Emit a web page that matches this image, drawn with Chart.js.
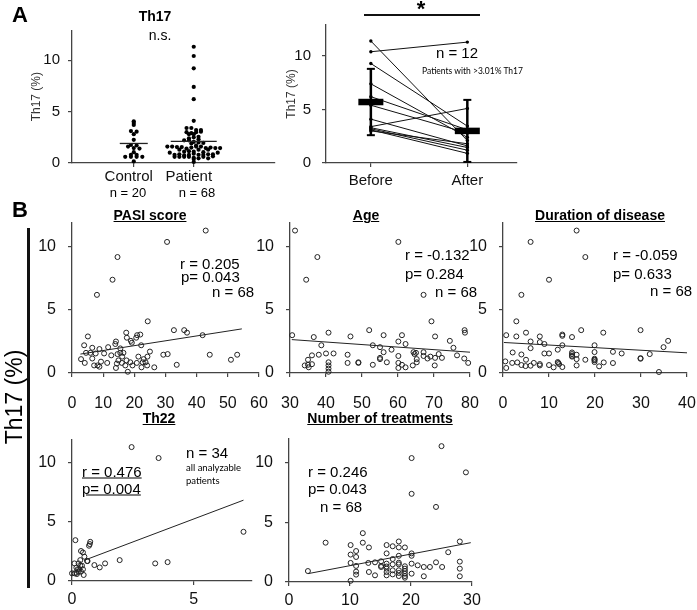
<!DOCTYPE html>
<html>
<head>
<meta charset="utf-8">
<script src="https://cdn.jsdelivr.net/npm/chart.js"></script>
<style>
  body { margin: 0; width: 697px; height: 610px; background: #fff; position: relative; overflow: hidden;
         font-family: "Liberation Sans", Arial, sans-serif; }
  canvas { position: absolute; }
  .t { position: absolute; white-space: nowrap; line-height: 1; color: #000; }
</style>
</head>
<body>
<script>
// ---- panel A, left: Th17 % in controls and patients
var groups = ['Control', 'Patient'];
var groupN = ['n = 20', 'n = 68'];
var controlTh17 = [4.05, 3.9, 3.7, 3.1, 3.05, 2.8, 2.25, 1.75, 1.7, 1.6, 1.45, 1.4, 1.05, 0.8, 0.8, 0.6, 0.6, 0.6, 0.6, 0.15];
var groupMeans = [1.9, 2.1];

// ---- panel A, right: paired before / after
var timepoints = ['Before', 'After'];
var beforeTh17 = [11.4, 10.4, 9.3, 7.4, 6.2, 5.4, 4.1, 3.4, 3.3, 3.2, 3.1, 3.0];
var afterTh17 = [2.1, 11.3, 3.45, 2.4, 3.1, 2.8, 1.6, 5.1, 1.45, 1.2, 0.9, 1.8];
var pairMeans = [5.7, 3.0];
var pairSD = [3.1, 2.9];

// ---- panel B scatters
var pasiScore = [42.9, 30.5, 14.6, 13.0, 8.0, 24.3, 32.7, 36.0, 36.9, 41.9, 5.1, 17.4, 17.6, 20.6, 20.9, 21.9, 18.9,
  19.2, 14.1, 13.9, 22.2, 3.9, 8.8, 11.6, 6.5, 4.5, 5.9, 7.6, 10.3, 12.6, 14.6, 15.5, 16.5, 16.1, 14.9, 16.0, 17.1,
  18.7, 19.4, 17.9, 14.1, 14.4, 11.3, 9.3, 7.1, 8.2, 8.8, 2.9, 4.1, 6.5, 20.8, 22.3, 22.7, 23.0, 23.6, 24.2, 25.0,
  24.1, 26.4, 29.3, 30.7, 33.6, 44.2, 51.0, 53.0, 17.5, 21.3, 15.5];
var pasiTh17 = [11.3, 10.4, 9.2, 7.4, 6.2, 4.1, 3.4, 3.4, 3.2, 3.0, 2.9, 3.2, 2.8, 2.8, 3.0, 3.05, 2.55,
  2.4, 2.5, 2.3, 2.2, 2.2, 1.9, 2.05, 2.0, 1.6, 1.6, 1.55, 1.55, 1.4, 1.5, 1.6, 1.6, 1.3, 1.0, 0.8, 0.6,
  0.85, 0.6, 0.1, 0.4, 0.75, 0.8, 0.9, 0.6, 0.6, 0.5, 1.1, 0.8, 1.15, 0.8, 0.45, 0.85, 1.1, 0.85, 1.3, 1.7,
  0.6, 0.45, 1.45, 1.5, 0.65, 1.45, 1.05, 1.45, 1.0, 1.3, 1.95];
var pasiFitX = [2.7, 54.5];
var pasiFitY = [1.5, 3.5];

var ageYears = [31.4, 60.1, 37.6, 34.5, 67.1, 69.3, 30.6, 36.6, 40.7, 46.8, 52.0, 56.0, 61.1, 60.1, 62.1, 70.3, 78.5,
  78.6, 74.4, 75.4, 38.7, 53.0, 55.0, 58.2, 56.0, 64.3, 64.6, 67.1, 36.1, 38.0, 40.0, 42.1, 46.0, 35.0, 35.0, 34.1,
  35.2, 36.1, 40.7, 40.7, 40.7, 40.7, 46.0, 49.0, 49.0, 53.0, 55.0, 55.0, 56.9, 60.1, 60.1, 60.1, 61.1, 62.1, 64.1,
  65.2, 65.2, 67.1, 68.2, 70.2, 70.3, 71.3, 72.2, 76.4, 78.4, 79.5, 65.0, 69.0];
var ageTh17 = [11.3, 10.4, 9.2, 7.4, 6.2, 4.1, 3.0, 2.85, 3.2, 2.9, 3.4, 3.0, 3.0, 2.5, 2.3, 2.9, 3.4,
  3.2, 2.55, 2.0, 2.2, 2.2, 2.05, 1.85, 1.65, 1.65, 1.5, 1.65, 1.4, 1.45, 1.55, 1.55, 1.45, 1.05, 0.65, 0.6,
  0.45, 0.7, 0.85, 0.6, 0.35, 0.1, 0.8, 0.85, 0.8, 0.65, 1.1, 1.2, 0.85, 1.35, 0.8, 0.4, 0.65, 0.45, 0.6,
  1.1, 0.85, 1.35, 1.15, 0.6, 1.2, 1.5, 1.2, 1.4, 1.15, 0.8, 1.6, 1.3];
var ageFitX = [30.5, 80];
var ageFitY = [2.65, 1.65];

var durationYears = [16.0, 6.0, 17.9, 10.0, 4.0, 2.9, 29.9, 17.0, 0.7, 2.9, 5.0, 8.0, 12.9, 12.9, 15.0, 21.8, 35.9,
  34.9, 6.0, 8.0, 9.0, 12.9, 19.9, 6.0, 11.9, 2.1, 4.0, 9.0, 10.0, 15.0, 15.0, 16.0, 19.9, 23.9, 25.8, 31.9, 15.0,
  16.0, 17.9, 19.9, 19.9, 20.9, 21.9, 23.9, 29.9, 29.9, 0.5, 0.7, 3.1, 4.0, 4.9, 5.0, 6.0, 8.0, 8.0, 10.0, 11.0,
  11.9, 12.2, 12.9, 16.0, 33.9, 12.0, 6.7, 19.9, 2.0, 19.9, 15.0];
var durationTh17 = [11.3, 10.4, 9.2, 7.4, 6.2, 4.1, 3.4, 3.4, 3.0, 2.9, 3.2, 2.9, 3.05, 2.95, 2.85, 3.2, 2.55,
  2.05, 2.5, 2.45, 2.3, 2.2, 2.2, 1.97, 1.85, 1.63, 1.47, 1.55, 1.55, 1.63, 1.37, 1.45, 1.66, 1.68, 1.55, 1.5, 1.3,
  1.1, 1.05, 1.13, 0.87, 0.53, 0.84, 0.79, 1.13, 1.18, 0.92, 0.4, 0.84, 0.63, 0.55, 1.05, 0.58, 0.71, 0.6, 0.63, 0.45,
  0.87, 0.71, 0.47, 0.6, 0.08, 0.8, 0.8, 1.05, 0.8, 1.0, 1.5];
var durationFitX = [0.2, 40];
var durationFitY = [2.42, 1.6];

var th22Pct = [2.45, 3.56, 7.05, 0.14, 0.75, 0.73, 0.70, 0.37, 0.45, 0.51, 0.64, 0.62, 1.96, 0.92, 1.14, 1.36, 3.42,
  3.93, 0.1, 0.27, 0.34, 0.18, 0.3, 0.41, 0.45, 0.27, 0.18, 0.0, 0.2, 0.37, 0.48, 0.23, 0.34, 0.11];
var th22Th17 = [11.35, 10.42, 4.17, 3.46, 3.32, 3.13, 2.99, 2.54, 2.42, 2.06, 1.69, 1.69, 1.77, 1.35, 1.15, 1.49, 1.49,
  1.6, 1.49, 1.49, 1.3, 1.13, 1.01, 1.3, 0.99, 0.79, 0.7, 0.65, 0.59, 0.79, 0.51, 0.99, 1.77, 0.65];
var th22FitX = [0.5, 7.05];
var th22FitY = [1.75, 6.85];

var treatments = [25.0, 20.1, 29.0, 20.1, 24.1, 12.1, 6.0, 28.0, 10.1, 12.1, 13.1, 16.0, 17.0, 18.0, 18.0, 19.0, 11.0,
  10.1, 11.0, 10.1, 11.0, 16.0, 20.1, 20.1, 18.0, 26.1, 13.0, 14.1, 15.1, 15.1, 16.0, 17.0, 17.0, 18.0, 18.0, 19.0,
  20.1, 21.1, 22.1, 23.1, 24.1, 25.1, 28.0, 28.0, 28.0, 11.0, 11.0, 13.1, 14.1, 16.0, 16.0, 16.0, 17.0, 18.0, 18.0,
  19.0, 19.0, 19.0, 19.0, 20.1, 22.1, 10.1, 3.1, 15.1, 18.0, 17.0, 16.0, 19.0];
var treatTh17 = [11.4, 10.4, 9.2, 7.4, 6.3, 4.1, 3.3, 3.4, 3.1, 3.3, 2.9, 3.1, 3.0, 3.4, 2.9, 2.9, 2.6,
  2.3, 2.1, 1.6, 1.35, 2.4, 2.4, 2.2, 2.2, 2.5, 1.6, 1.65, 1.74, 1.35, 1.54, 1.93, 1.48, 1.62, 1.48, 1.32,
  1.54, 1.4, 1.26, 1.26, 1.65, 1.26, 1.71, 1.12, 0.48, 0.87, 0.62, 0.84, 0.56, 1.12, 0.84, 0.56, 0.64, 0.76, 0.5,
  0.92, 0.7, 0.5, 0.36, 0.7, 0.48, 0.1, 0.92, 1.26, 0.98, 0.98, 1.3, 1.12];
var treatFitX = [3.1, 29.8];
var treatFitY = [0.7, 3.3];

// ---------------------------------------------------------------
Chart.defaults.font.family = '"Liberation Sans", Arial, sans-serif';

function flat(s) { s.paddingLeft = s.paddingRight = s.paddingTop = s.paddingBottom = 0; }

function xy(xs, ys) { return xs.map(function (x, i) { return { x: x, y: ys[i] }; }); }

// dot plot rows: spread points of the same height sideways
function swarm(vals, center, bin, step) {
  var rows = {};
  vals.forEach(function (v) { var k = Math.round(v / bin); (rows[k] = rows[k] || []).push(v); });
  var pts = [];
  Object.keys(rows).forEach(function (k) {
    var r = rows[k];
    r.forEach(function (v, i) { pts.push({ x: center + (i - (r.length - 1) / 2) * step, y: v }); });
  });
  return pts;
}

// one chart per panel, canvas placed so the plot area lands on "area"
function panel(area, yw, xh, datasets, xScale, yScale) {
  var pl = 6, pt = 6, pr = 14, pb = 4;
  var w = area.right - area.left + yw + pl + pr;
  var h = area.bottom - area.top + xh + pt + pb;
  var cv = document.createElement('canvas');
  cv.width = w; cv.height = h;
  cv.style.cssText = 'left:' + (area.left - yw - pl) + 'px;top:' + (area.top - pt) + 'px;width:' + w + 'px;height:' + h + 'px';
  document.body.appendChild(cv);
  xScale.afterFit = function (s) { s.height = xh; flat(s); };
  yScale.afterFit = function (s) { s.width = yw; flat(s); };
  return new Chart(cv, {
    type: 'scatter',
    data: { datasets: datasets },
    options: {
      responsive: false, animation: false, events: [],
      layout: { padding: { left: pl, top: pt, right: pr, bottom: pb } },
      plugins: { legend: { display: false }, tooltip: { enabled: false } },
      scales: { x: xScale, y: yScale }
    }
  });
}

function axis(min, max, step, size, pad, extra) {
  var a = {
    type: 'linear', min: min, max: max,
    ticks: { stepSize: step, includeBounds: false, padding: pad, color: '#111', font: { size: size } },
    grid: { drawOnChartArea: false, tickLength: 4, color: '#444', lineWidth: 1.2 },
    border: { color: '#444', width: 1.3 }
  };
  for (var k in extra) a[k] = extra[k];
  return a;
}

function catTicks(names) {
  return function (s) { s.ticks = names.map(function (n, i) { return { value: i + 1 }; }); };
}

var yTitleA = { display: true, text: 'Th17 (%)', color: '#333', font: { size: 12 }, padding: 0 };

// ---- A left
var dotStyle = { pointRadius: 2.1, pointBackgroundColor: '#000', pointBorderWidth: 0, clip: false };
panel({ left: 72, top: 12, right: 285, bottom: 163 }, 43, 30, [
  { data: [{ x: 1, y: groupMeans[0] }], pointStyle: 'line', pointRadius: 14, pointBorderWidth: 1.3, borderColor: '#222', clip: false },
  { data: [{ x: 2, y: groupMeans[1] }], pointStyle: 'line', pointRadius: 23, pointBorderWidth: 1.3, borderColor: '#222', clip: false },
  Object.assign({ data: swarm(controlTh17, 1, 0.3, 0.095) }, dotStyle),
  Object.assign({ data: swarm(pasiTh17, 2, 0.3, 0.08) }, dotStyle)
], axis(-0.03, 3.35, 1, 15, 1, {
  afterBuildTicks: catTicks(groups),
  ticks: { padding: 1, color: '#111', font: { size: 15 }, labelOffset: -5, callback: function (v) { return groups[v - 1]; } }
}), axis(0, 12.9, 5, 15, 8, { title: yTitleA }));

// ---- A right
var pairSets = beforeTh17.map(function (b, i) {
  return { type: 'line', data: [{ x: 1, y: b }, { x: 2, y: afterTh17[i] }], borderColor: '#111', borderWidth: 1,
           pointRadius: 1.7, pointBackgroundColor: '#000', pointBorderWidth: 0, clip: false };
});
var barSets = [];
pairMeans.forEach(function (m, i) {
  barSets.push({ data: [{ x: i + 1, y: m }], pointStyle: 'line', pointRadius: 12.5, pointBorderWidth: 6.5, borderColor: '#000', clip: false });
  barSets.push({ type: 'line', data: [{ x: i + 1, y: m - pairSD[i] }, { x: i + 1, y: m + pairSD[i] }], borderColor: '#000', borderWidth: 2.5,
                 pointStyle: 'line', pointRadius: 4, pointBorderWidth: 2, pointBorderColor: '#000', clip: false });
});
panel({ left: 326, top: 12, right: 522, bottom: 163 }, 42, 30, barSets.concat(pairSets),
  axis(0.535, 2.515, 1, 15, 5, {
    afterBuildTicks: catTicks(timepoints),
    ticks: { padding: 5, color: '#111', font: { size: 15 }, callback: function (v) { return timepoints[v - 1]; } }
  }), axis(0, 12.9, 5, 15, 11, { title: yTitleA }));

// ---- B scatters
function scatterSets(xs, ys, fx, fy) {
  return [
    { type: 'line', data: xy(fx, fy), borderColor: '#222', borderWidth: 1, pointRadius: 0, clip: false },
    { data: xy(xs, ys), pointRadius: 2.5, pointBorderWidth: 1, pointBorderColor: '#222',
      pointBackgroundColor: 'rgba(255,255,255,0)', clip: false }
  ];
}

panel({ left: 72, top: 223, right: 259, bottom: 373 }, 40, 44, scatterSets(pasiScore, pasiTh17, pasiFitX, pasiFitY),
  axis(0, 60, 10, 16, 17), axis(0, 11.9, 5, 16, 12));
panel({ left: 290, top: 223, right: 470, bottom: 373 }, 40, 44, scatterSets(ageYears, ageTh17, ageFitX, ageFitY),
  axis(30, 80, 10, 16, 17), axis(0, 11.9, 5, 16, 12));
panel({ left: 503, top: 223, right: 687, bottom: 373 }, 40, 44, scatterSets(durationYears, durationTh17, durationFitX, durationFitY),
  axis(0, 40, 10, 16, 17), axis(0, 11.9, 5, 16, 12));
panel({ left: 72, top: 440, right: 252, bottom: 581 }, 40, 30, scatterSets(th22Pct, th22Th17, th22FitX, th22FitY),
  axis(0, 7.4, 5, 16, 5), axis(0, 11.95, 5, 16, 12));
panel({ left: 289, top: 439, right: 472, bottom: 582 }, 40, 30, scatterSets(treatments, treatTh17, treatFitX, treatFitY),
  axis(0, 30, 10, 16, 5), axis(0, 12.0, 5, 16, 12));

// ---- text and decorations
function note(text, x, y, size, opt) {
  opt = opt || {};
  var d = document.createElement('div');
  d.className = 't';
  d.textContent = text;
  var ax = opt.align === 'left' ? '0' : (opt.align === 'right' ? '-100%' : '-50%');
  d.style.cssText = 'left:' + x + 'px;top:' + y + 'px;font-size:' + size + 'px;transform:translate(' + ax + ',-50%)' +
    (opt.rot ? ' rotate(-90deg)' : '') + ';' + (opt.bold ? 'font-weight:bold;' : '') +
    (opt.u ? 'text-decoration:underline;' : '') + (opt.font ? 'font-family:' + opt.font + ';' : '');
  document.body.appendChild(d);
}
function rule(x, y, w, h) {
  var d = document.createElement('div');
  d.style.cssText = 'position:absolute;background:#111;left:' + x + 'px;top:' + y + 'px;width:' + w + 'px;height:' + h + 'px';
  document.body.appendChild(d);
}

note('A', 12, 15, 22, { bold: true, align: 'left' });
note('Th17', 155, 16, 14, { bold: true });
note('n.s.', 160, 35, 14);
note(groupN[0], 128, 192, 13);
note(groupN[1], 197, 192, 13);
rule(364, 14, 116, 1.5);
note('*', 421, 9, 22, { bold: true });
note('n = 12', 457, 52, 15);
note('Patients with >3.01% Th17', 422, 71, 8.5, { align: 'left', font: 'Lato' });

note('B', 12, 210, 22, { bold: true, align: 'left' });
rule(27, 228, 2.5, 360);
note('Th17 (%)', 14, 397, 23, { rot: true });

note('PASI score', 150, 215, 14, { bold: true, u: true });
note('r = 0.205', 180, 263, 15, { align: 'left' });
note('p= 0.043', 181, 276, 15, { align: 'left' });
note('n = 68', 212, 291, 15, { align: 'left' });

note('Age', 366, 215, 14, { bold: true, u: true });
note('r = -0.132', 405, 254, 15, { align: 'left' });
note('p= 0.284', 405, 273, 15, { align: 'left' });
note('n = 68', 435, 291, 15, { align: 'left' });

note('Duration of disease', 600, 215, 14, { bold: true, u: true });
note('r = -0.059', 613, 254, 15, { align: 'left' });
note('p= 0.633', 613, 273, 15, { align: 'left' });
note('n = 68', 650, 290, 15, { align: 'left' });

note('Th22', 159, 418, 14, { bold: true, u: true });
note('r = 0.476', 82, 471, 15, { align: 'left', u: true });
note('p= 0.004', 82, 488, 15, { align: 'left', u: true });
note('n = 34', 186, 452, 15, { align: 'left' });
note('all analyzable', 186, 468, 9.5, { align: 'left', font: 'Lato' });
note('patients', 186, 481, 9.5, { align: 'left', font: 'Lato' });

note('Number of treatments', 380, 418, 14, { bold: true, u: true });
note('r = 0.246', 308, 471, 15, { align: 'left' });
note('p= 0.043', 308, 488, 15, { align: 'left' });
note('n = 68', 320, 506, 15, { align: 'left' });
</script>
</body>
</html>
